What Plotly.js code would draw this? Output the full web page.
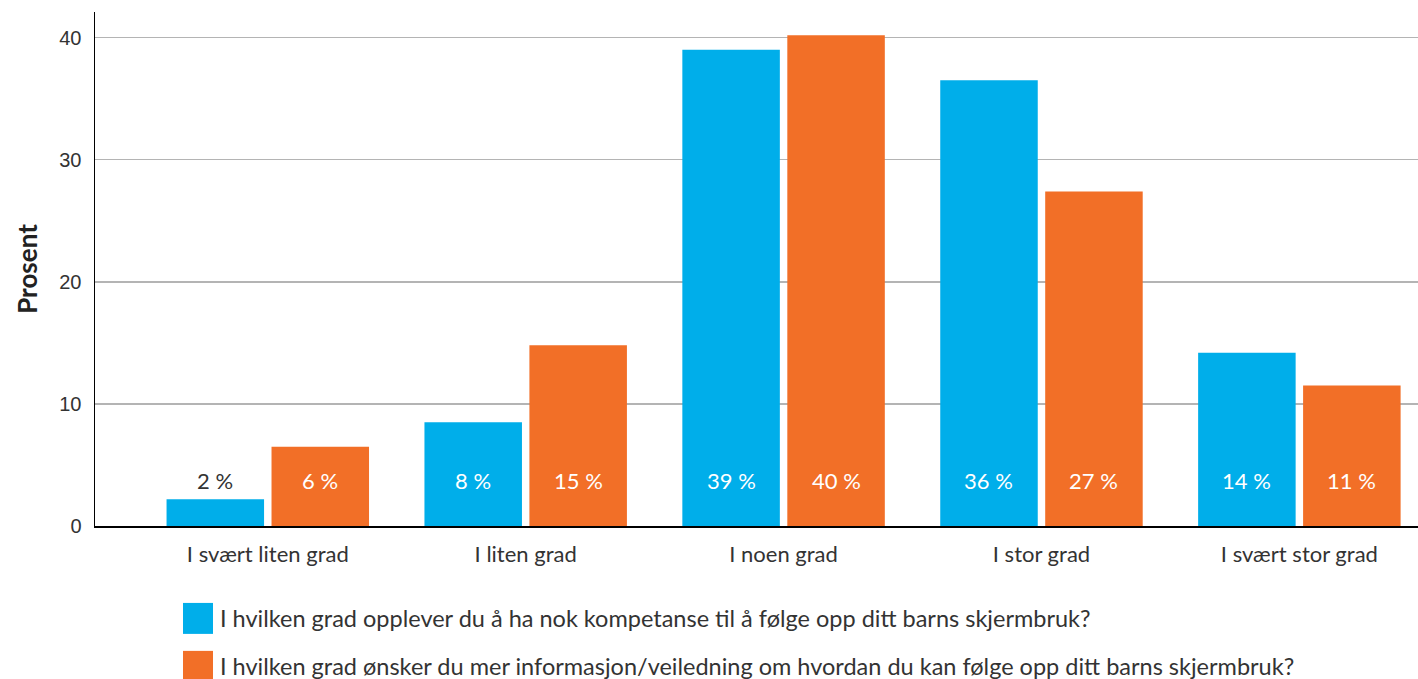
<!DOCTYPE html>
<html>
  <head>
    <meta http-equiv="content-type" content="text/html; charset=utf-8" />
    <style>
      body { margin: 0; background-color: #FFFFFF; }
      #chart { width: 1418px; height: 679px; }
    </style>
    <script src="https://cdn.plot.ly/plotly-3.0.1.min.js"></script>
  </head>
  <body>
    <div id="chart"></div>
    <script>
      var categories = ['I svært liten grad', 'I liten grad', 'I noen grad', 'I stor grad', 'I svært stor grad'];
      var seriesNames = [
        'I hvilken grad opplever du å ha nok kompetanse til å følge opp ditt barns skjermbruk?',
        'I hvilken grad ønsker du mer informasjon/veiledning om hvordan du kan følge opp ditt barns skjermbruk?'
      ];
      var kompetanse = [2.2, 8.5, 39.0, 36.5, 14.2];
      var informasjon = [6.5, 14.8, 40.2, 27.4, 11.5];
      var kompetanseLabels = ['2 %', '8 %', '39 %', '36 %', '14 %'];
      var informasjonLabels = ['6 %', '15 %', '40 %', '27 %', '11 %'];
      var colors = ['#00AEEA', '#F26F27'];

      var font = 'Lato, sans-serif';
      var labelY = 3.7;

      var sets = [
        {name: seriesNames[0], x: categories, y: kompetanse, type: 'bar', marker: {color: colors[0]}, hoverinfo: 'none'},
        {name: seriesNames[1], x: categories, y: informasjon, type: 'bar', marker: {color: colors[1]}, hoverinfo: 'none'}
      ];

      var annotations = [];
      var i;
      for (i = 0; i < categories.length; i++) {
        annotations.push({
          x: categories[i], y: labelY, xref: 'x', yref: 'y', xshift: -52.5,
          text: kompetanseLabels[i], showarrow: false,
          font: {family: font, size: 22, color: kompetanse[i] > labelY + 1 ? '#FFFFFF' : '#333333'}
        });
        annotations.push({
          x: categories[i], y: labelY, xref: 'x', yref: 'y', xshift: 52.5,
          text: informasjonLabels[i], showarrow: false,
          font: {family: font, size: 22, color: informasjon[i] > labelY + 1 ? '#FFFFFF' : '#333333'}
        });
      }

      // custom legend with big square swatches
      var shapes = [];
      for (i = 0; i < seriesNames.length; i++) {
        var yc = 619 + i * 48;
        shapes.push({
          type: 'rect', xref: 'paper', yref: 'paper',
          x0: (183 - 95) / 1323, x1: (213 - 95) / 1323,
          y0: (526.5 - yc + 15.5) / 514.5, y1: (526.5 - yc - 15.5) / 514.5,
          fillcolor: colors[i], line: {width: 0}
        });
        annotations.push({
          xref: 'paper', yref: 'paper', x: (218 - 95) / 1323, y: (526.5 - yc) / 514.5,
          xanchor: 'left', yanchor: 'middle', text: seriesNames[i], showarrow: false,
          font: {family: font, size: 23.5, color: '#333333'}
        });
      }

      var options = {
        width: 1418,
        height: 679,
        margin: {l: 95, r: 0, t: 12, b: 152.5},
        paper_bgcolor: '#FFFFFF',
        plot_bgcolor: '#FFFFFF',
        showlegend: false,
        barmode: 'group',
        bargap: 0.186,
        bargroupgap: 0.071,
        xaxis: {
          type: 'category',
          range: [-0.67, 4.46],
          showline: true,
          linecolor: '#000000',
          linewidth: 1.5,
          ticks: '',
          ticklabelstandoff: 8,
          tickfont: {family: font, size: 22, color: '#333333'},
          showgrid: false
        },
        yaxis: {
          range: [0, 42.1],
          tickvals: [0, 10, 20, 30, 40],
          showline: true,
          linecolor: '#000000',
          linewidth: 1.5,
          zeroline: false,
          gridcolor: '#B4B4B4',
          gridwidth: 1.5,
          ticks: '',
          ticklabelstandoff: 8,
          tickfont: {family: 'Liberation Sans, Arial, sans-serif', size: 20, color: '#333333'},
          title: {text: '<b>Prosent</b>', font: {family: font, size: 26, color: '#222222'}, standoff: 14}
        },
        annotations: annotations,
        shapes: shapes
      };

      Plotly.newPlot('chart', sets, options, {displayModeBar: false, staticPlot: true});
    </script>
  </body>
</html>
